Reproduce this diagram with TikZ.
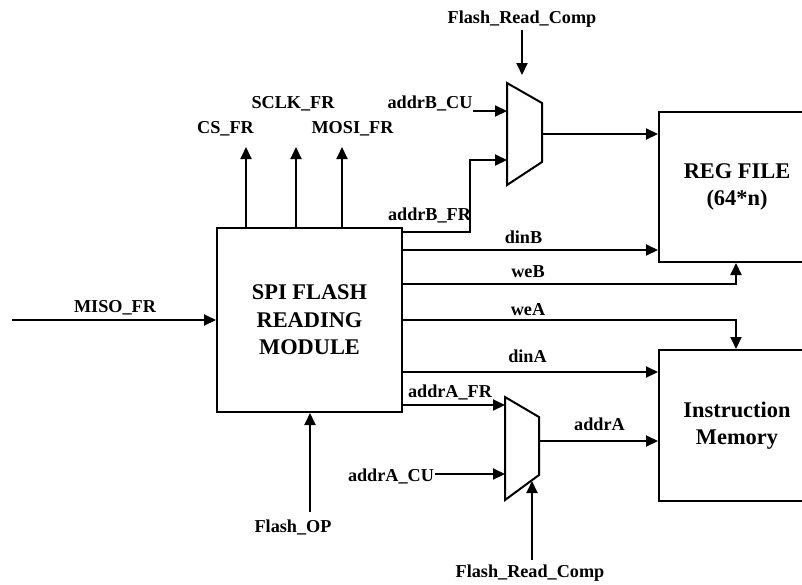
\documentclass[tikz,border=0pt]{standalone}
\usepackage{fontspec}
\setmainfont{Liberation Serif}
\usetikzlibrary{arrows.meta, positioning}
\tikzset{
  bloque/.style={rectangle, draw, line width=2pt, align=center,
    font=\bfseries\fontsize{22.4}{27.5}\selectfont, inner sep=0pt},
  selector/.style={draw, line width=2pt},
  cable/.style={line width=2pt},
  flecha/.style={cable, -{Triangle[length=12pt, width=11pt]}},
  etiq/.style={font=\bfseries\fontsize{18.2}{20}\selectfont, anchor=base, inner sep=0pt}
}
\begin{document}
\begin{tikzpicture}[x=1pt, y=-1pt]
  \useasboundingbox (0,0) rectangle (802,584);
  % bloques
  \node[bloque, minimum width=185pt, minimum height=184pt] (spi) at (309.5,320)
    {SPI FLASH\\READING\\MODULE};
  \node[bloque, minimum width=156pt, minimum height=150pt] (regf) at (737,187)
    {REG FILE\\(64*n)};
  \node[bloque, minimum width=156pt, minimum height=151pt, below=86pt of regf] (imem)
    {Instruction\\Memory};
  % multiplexores
  \draw[selector] (507,83) -- (542,103) -- (542,162) -- (507,185) -- cycle;
  \draw[selector] (505,397) -- (539,417) -- (539,475) -- (505,500) -- cycle;
  \coordinate (muxBa) at (507,111);
  \coordinate (muxBb) at (507,160);
  \coordinate (muxBo) at (542,134);
  \coordinate (muxBs) at (522,75);
  \coordinate (muxAa) at (505,405);
  \coordinate (muxAb) at (505,474);
  \coordinate (muxAo) at (539,441);
  \coordinate (muxAs) at (532,481);
  % extremos libres
  \coordinate (misoIn) at (12,320);
  \coordinate (csOut) at (246,147);
  \coordinate (sclkOut) at (296,147);
  \coordinate (mosiOut) at (342,147);
  \coordinate (opIn) at (310,512);
  \coordinate (bcuIn) at (473,111);
  \coordinate (acuIn) at (435,474);
  \coordinate (frcInB) at (522,30);
  \coordinate (frcInA) at (532,560);
  % salidas laterales del SPI
  \coordinate (tBfr) at ([yshift=88pt]spi.east);
  \coordinate (tDinB) at ([yshift=70pt]spi.east);
  \coordinate (tWeB) at ([yshift=36pt]spi.east);
  \coordinate (tDinA) at ([yshift=-52pt]spi.east);
  \coordinate (tAfr) at ([yshift=-85pt]spi.east);
  % conexiones
  \draw[flecha] (misoIn) -- (spi.west);
  \draw[flecha] (spi.north -| csOut) -- (csOut);
  \draw[flecha] (spi.north -| sclkOut) -- (sclkOut);
  \draw[flecha] (spi.north -| mosiOut) -- (mosiOut);
  \draw[flecha] (opIn) -- (opIn |- spi.south);
  \draw[flecha] (tBfr) -| ([xshift=-37pt]muxBb) -- (muxBb);
  \draw[flecha] (bcuIn) -- (muxBa);
  \draw[flecha] (frcInB) -- (muxBs);
  \draw[flecha] (muxBo) -- (muxBo -| regf.west);
  \draw[flecha] (tDinB) -- (tDinB -| regf.west);
  \draw[flecha] (tWeB) -| ([xshift=-1pt]regf.south);
  \draw[flecha] (spi.east) -| ([xshift=-1pt]imem.north);
  \draw[flecha] (tDinA) -- (tDinA -| imem.west);
  \draw[flecha] (tAfr) -- (muxAa);
  \draw[flecha] (acuIn) -- (muxAb);
  \draw[flecha] (frcInA) -- (muxAs);
  \draw[flecha] (muxAo) -- (muxAo -| imem.west);
  % etiquetas
  \node[etiq] (lMiso) at (115,312) {MISO\_FR};
  \node[etiq] (lCs) at (225.5,133) {CS\_FR};
  \node[etiq] (lSclk) at (293,108) {SCLK\_FR};
  \node[etiq] (lMosi) at (352.5,133) {MOSI\_FR};
  \node[etiq] (lBcu) at (430,108) {addrB\_CU};
  \node[etiq] (lBfr) at (429.5,220) {addrB\_FR};
  \node[etiq] (lFrcB) at (522,23) {Flash\_Read\_Comp};
  \node[etiq] (lDinB) at (523.5,243) {dinB};
  \node[etiq] (lWeB) at (528,277) {weB};
  \node[etiq] (lWeA) at (528,315) {weA};
  \node[etiq] (lDinA) at (527.5,362) {dinA};
  \node[etiq] (lAfr) at (450,397) {addrA\_FR};
  \node[etiq] (lAddrA) at (599.5,430) {addrA};
  \node[etiq] (lAcu) at (391,481) {addrA\_CU};
  \node[etiq] (lOp) at (293,532) {Flash\_OP};
  \node[etiq] (lFrcA) at (530,577) {Flash\_Read\_Comp};
\end{tikzpicture}
\end{document}
